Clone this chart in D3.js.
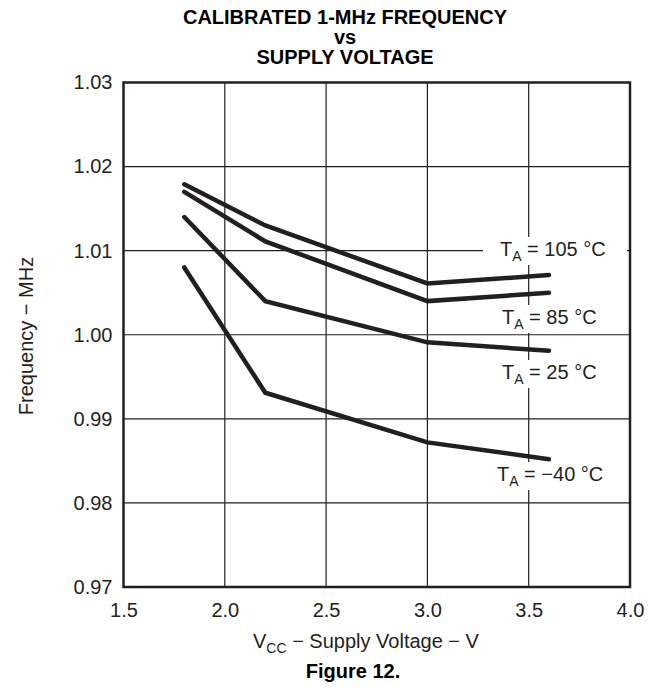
<!DOCTYPE html>
<html>
<head>
<meta charset="utf-8">
<script src="https://cdn.jsdelivr.net/npm/d3@7"></script>
<style>
  html, body { margin: 0; padding: 0; background: #fff; }
  svg { display: block; font-family: "Liberation Sans", Arial, sans-serif; }
</style>
</head>
<body>
<svg id="chart" width="655" height="687"></svg>
<script>
// ---- data ----
const voltages = [1.8, 2.2, 3.0, 3.6];
const freq105 = [1.0179, 1.0130, 1.0061, 1.0071];
const freq85  = [1.0170, 1.0111, 1.0040, 1.0050];
const freq25  = [1.0140, 1.0040, 0.9991, 0.9981];
const freqM40 = [1.0080, 0.9931, 0.9872, 0.9852];
const seriesNames = ["105 °C", "85 °C", "25 °C", "\u221240 °C"];
const xTicks = [1.5, 2.0, 2.5, 3.0, 3.5, 4.0];
const yTicks = [0.97, 0.98, 0.99, 1.00, 1.01, 1.02, 1.03];
const titleLines = ["CALIBRATED 1-MHz FREQUENCY", "vs", "SUPPLY VOLTAGE"];

const series = [freq105, freq85, freq25, freqM40];

// ---- layout ----
const svg = d3.select("#chart");
const m = { left: 123.5, right: 630, top: 82.5, bottom: 587 };
const ink = "#231f20";

const x = d3.scaleLinear().domain([1.5, 4.0]).range([m.left, m.right]);
const y = d3.scaleLinear().domain([0.97, 1.03]).range([m.bottom, m.top]);

// title
svg.append("g").selectAll("text").data(titleLines).join("text")
  .attr("x", 345).attr("y", (d, i) => 24 + i * 20)
  .attr("text-anchor", "middle")
  .attr("font-size", 20).attr("font-weight", "bold").attr("fill", "#000")
  .text(d => d);

// grid
const grid = svg.append("g").attr("stroke", ink).attr("stroke-width", 1.2);
grid.selectAll("line.v").data(xTicks.slice(1, -1)).join("line")
  .attr("x1", d => x(d)).attr("x2", d => x(d))
  .attr("y1", m.top).attr("y2", m.bottom);
grid.selectAll("line.h").data(yTicks.slice(1, -1)).join("line")
  .attr("y1", d => y(d)).attr("y2", d => y(d))
  .attr("x1", m.left).attr("x2", m.right);

// axes (labels only)
const yAxis = d3.axisLeft(y).tickValues(yTicks).tickFormat(d3.format(".2f")).tickSize(0).tickPadding(11);
const xAxis = d3.axisBottom(x).tickValues(xTicks).tickFormat(d3.format(".1f")).tickSize(0).tickPadding(16);
const gy = svg.append("g").attr("transform", `translate(${m.left},0)`).call(yAxis);
const gx = svg.append("g").attr("transform", `translate(0,${m.bottom})`).call(xAxis);
[gx, gy].forEach(g => {
  g.select(".domain").remove();
  g.selectAll("text").attr("font-size", 20).attr("fill", ink)
    .attr("font-family", "\"Liberation Sans\", Arial, sans-serif");
});

// lines
const line = d3.line().x((d, i) => x(voltages[i])).y(d => y(d));
svg.append("g").selectAll("path").data(series).join("path")
  .attr("d", d => line(d))
  .attr("fill", "none").attr("stroke", ink).attr("stroke-width", 4.5)
  .attr("stroke-linecap", "round");

// series labels
const labelPos = [
  { x: 500, y: 256 },
  { x: 502, y: 324 },
  { x: 502, y: 379 },
  { x: 497, y: 481 }
];
const labG = svg.append("g");
seriesNames.forEach((name, i) => {
  const g = labG.append("g");
  const bg = g.append("rect").attr("fill", "#fff");
  const t = g.append("text").attr("x", labelPos[i].x).attr("y", labelPos[i].y)
    .attr("font-size", 20).attr("fill", ink);
  t.append("tspan").text("T");
  t.append("tspan").attr("font-size", 14).attr("dy", 5).text("A");
  t.append("tspan").attr("dy", -5).text(" = " + name);
  const bb = t.node().getBBox();
  const padL = i === 0 ? 17 : 3;
  const left = bb.x - padL;
  const right = i === 0 ? m.right - 3 : bb.x + bb.width + 3;
  bg.attr("x", left).attr("y", bb.y - 1)
    .attr("width", right - left)
    .attr("height", bb.height + 2);
});

// border
svg.append("rect")
  .attr("x", m.left).attr("y", m.top)
  .attr("width", m.right - m.left).attr("height", m.bottom - m.top)
  .attr("fill", "none").attr("stroke", ink).attr("stroke-width", 2.5);

// x axis title
const xt = svg.append("text").attr("x", 253).attr("y", 648)
  .attr("font-size", 20).attr("fill", ink);
xt.append("tspan").text("V");
xt.append("tspan").attr("font-size", 14).attr("dy", 5).text("CC");
xt.append("tspan").attr("dy", -5).text(" \u2212 Supply Voltage \u2212 V");

// y axis title
svg.append("text")
  .attr("transform", "translate(33,336) rotate(-90)")
  .attr("text-anchor", "middle")
  .attr("font-size", 20).attr("fill", ink)
  .text("Frequency \u2212 MHz");

// figure caption
svg.append("text").attr("x", 353).attr("y", 678)
  .attr("text-anchor", "middle")
  .attr("font-size", 20).attr("font-weight", "bold").attr("fill", "#000")
  .text("Figure 12.");
</script>
</body>
</html>
